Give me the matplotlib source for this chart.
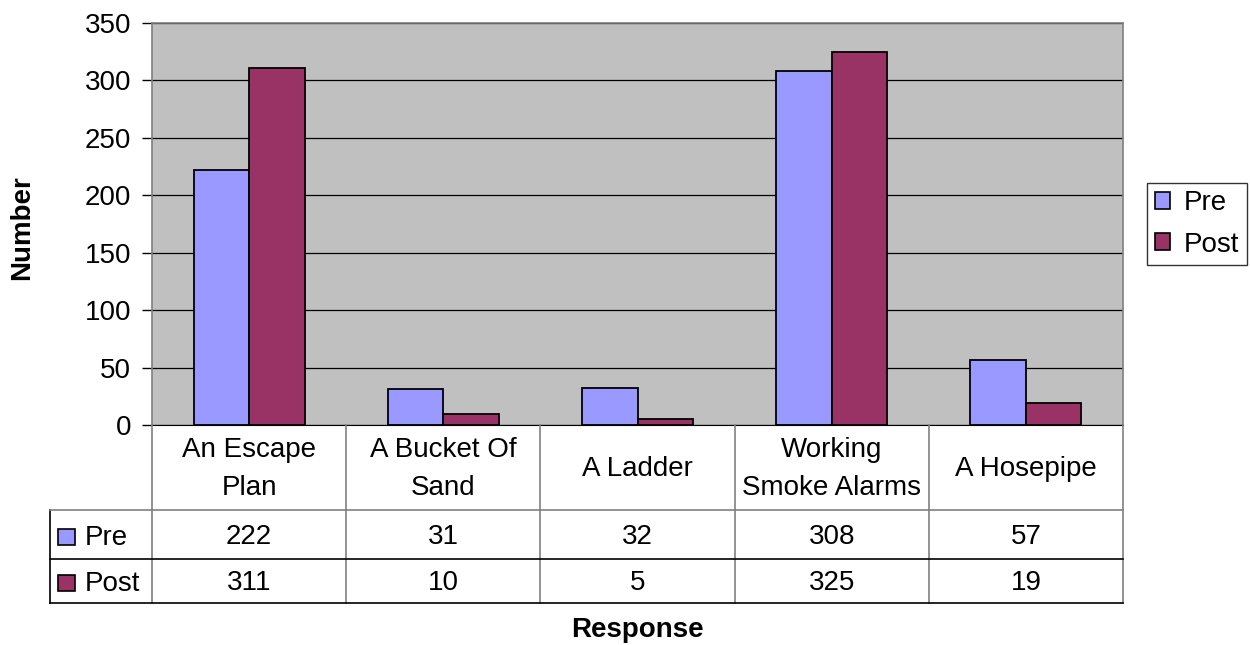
import matplotlib.pyplot as plt
import numpy as np
from matplotlib.patches import Rectangle, Patch

plt.rcParams['font.family'] = ['Liberation Sans', 'DejaVu Sans']

categories = ["An Escape\nPlan", "A Bucket Of\nSand", "A Ladder",
              "Working\nSmoke Alarms", "A Hosepipe"]
pre = [222, 31, 32, 308, 57]
post = [311, 10, 5, 325, 19]
series_names = ["Pre", "Post"]
colors = ["#9999FF", "#993366"]

FS = 20
W, H = 1250, 645
fig = plt.figure(figsize=(W / 100, H / 100), dpi=100)

# chart area
ax = fig.add_axes([152 / W, 1 - 425 / H, (1123 - 152) / W, (425 - 23) / H])
ax.set_facecolor("#C0C0C0")
x = np.arange(len(categories)) + 0.5
w = 1 / 3.5
ax.bar(x - w / 2, pre, w, color=colors[0], edgecolor="black", lw=1.3, zorder=3)
ax.bar(x + w / 2, post, w, color=colors[1], edgecolor="black", lw=1.3, zorder=3)
ax.set_xlim(0, len(categories))
ax.set_ylim(0, 350)
ax.set_yticks(range(0, 351, 50))
ax.set_xticks([])
ax.yaxis.grid(True, color="black", lw=0.9, zorder=1)
ax.tick_params(axis="y", direction="out", length=7, width=1, labelsize=FS, pad=8)
for s in ["left", "top", "right"]:
    ax.spines[s].set_color("#808080")
    ax.spines[s].set_linewidth(1.2)
ax.spines["bottom"].set_color("black")
fig.text(22 / W, 1 - 228 / H, "Number", rotation=90, ha="center", va="center",
         fontsize=FS, fontweight="bold")

# data table under the chart
unit = (1123 - 152) / len(categories)
left = -(152 - 50) / unit
tax = fig.add_axes([50 / W, 1 - 603 / H, (1123 - 50) / W, (603 - 425) / H])
tax.set_xlim(left, len(categories))
tax.set_ylim(178, 0)
tax.axis("off")
grey = "#808080"
for i in range(len(categories) + 1):
    tax.plot([i, i], [0, 178], color=grey, lw=1.2, clip_on=False)
tax.plot([left, left], [85, 178], color="black", lw=1.2, clip_on=False)
tax.plot([left, len(categories)], [85, 85], color=grey, lw=1.2, clip_on=False)
tax.plot([left, len(categories)], [134, 134], color="black", lw=1.2, clip_on=False)
tax.plot([left, len(categories)], [178, 178], color="black", lw=1.2, clip_on=False)

for i, c in enumerate(categories):
    tax.text(i + 0.5, 44, c, ha="center", va="center", fontsize=FS, linespacing=1.6)
for row_y, name, col, vals in [(112, series_names[0], colors[0], pre),
                               (158, series_names[1], colors[1], post)]:
    tax.add_patch(Rectangle((-(152 - 58) / unit, row_y - 8), 17 / unit, 16,
                            facecolor=col, edgecolor="black", lw=1.2, clip_on=False))
    tax.text(-(152 - 85) / unit, row_y + 1, name, ha="left", va="center", fontsize=FS)
    for i, v in enumerate(vals):
        tax.text(i + 0.5, row_y, str(v), ha="center", va="center", fontsize=FS)

fig.text(637 / W, 1 - 630 / H, "Response", ha="center", va="center",
         fontsize=FS, fontweight="bold")

handles = [Patch(facecolor=colors[0], edgecolor="black", lw=1.2),
           Patch(facecolor=colors[1], edgecolor="black", lw=1.2)]
leg = fig.legend(handles, series_names, loc="center left",
                 bbox_to_anchor=(1147 / W, 1 - 224 / H), fontsize=FS,
                 frameon=True, fancybox=False, handlelength=0.55, handleheight=0.55,
                 handletextpad=0.5, borderpad=0.28, labelspacing=0.55,
                 borderaxespad=0)
leg.get_frame().set_edgecolor("black")
leg.get_frame().set_linewidth(1.0)

fig.savefig("out.png", dpi=100)
